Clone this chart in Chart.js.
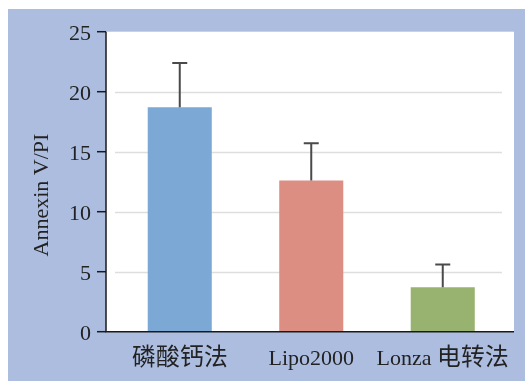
<!DOCTYPE html>
<html>
<head>
<meta charset="utf-8">
<script src="https://cdn.jsdelivr.net/npm/chart.js@4.4.1/dist/chart.umd.min.js"></script>
<style>
  /* slightly larger CJK glyphs next to the serif Latin text */
  @font-face {
    font-family: "CJKLabel";
    src: local("Noto Sans CJK SC"), local("NotoSansCJKsc-Regular"), local("Noto Sans CJK SC Regular");
    size-adjust: 108%;
    unicode-range: U+3000-9FFF, U+FF00-FFEF;
  }
  html, body { margin: 0; padding: 0; background: #ffffff; }
  #wrap { width: 525px; height: 381px; position: relative; }
</style>
</head>
<body>
<div id="wrap"><canvas id="chart"></canvas></div>
<script>
// Transfection methods and their Annexin V/PI readings
const categories = ['磷酸钙法', 'Lipo2000', 'Lonza 电转法'];
const means = [18.7, 12.6, 3.7];
const errorTops = [22.4, 15.7, 5.6];
const barColors = ['#7ba8d5', '#dc8e83', '#97b36f'];
const yTicks = [0, 5, 10, 15, 20, 25];
const yTitle = 'Annexin V/PI';

const FONT = '"Liberation Serif", "CJKLabel", "Noto Sans CJK SC", serif';
const PANEL_BLUE = '#adbde0';

// Frame, plot panel, grid, axes, error bars and the y title
const framePlugin = {
  id: 'frame',
  beforeDraw(chart) {
    const { ctx, chartArea: a, scales: { y } } = chart;
    ctx.save();
    ctx.fillStyle = '#ffffff';
    ctx.fillRect(0, 0, chart.width, chart.height);
    ctx.fillStyle = PANEL_BLUE;
    ctx.fillRect(8, 9, chart.width - 8, chart.height - 9);
    ctx.fillStyle = '#ffffff';
    ctx.fillRect(a.left - 8, a.top, a.right - a.left + 13.5, a.bottom - a.top);
    ctx.strokeStyle = '#dedede';
    ctx.lineWidth = 1.5;
    yTicks.forEach(v => {
      if (v === 0 || v === 25) return;
      const py = Math.round(y.getPixelForValue(v)) + 0.5;
      ctx.beginPath();
      ctx.moveTo(a.left + 1, py);
      ctx.lineTo(a.right - 6.5, py);
      ctx.stroke();
    });
    ctx.restore();
  },
  afterDatasetsDraw(chart) {
    const { ctx, chartArea: a, scales: { x, y } } = chart;
    ctx.save();
    // error bars
    ctx.strokeStyle = '#4a4a4a';
    ctx.lineWidth = 2;
    categories.forEach((c, i) => {
      const px = x.getPixelForValue(i);
      const top = y.getPixelForValue(errorTops[i]);
      const base = y.getPixelForValue(means[i]);
      ctx.beginPath();
      ctx.moveTo(px, base);
      ctx.lineTo(px, top);
      ctx.moveTo(px - 7.5, top);
      ctx.lineTo(px + 7.5, top);
      ctx.stroke();
    });
    // axes
    ctx.strokeStyle = '#1a1a1a';
    ctx.lineWidth = 1.5;
    const ax = a.left - 8;
    ctx.beginPath();
    ctx.moveTo(ax, a.top);
    ctx.lineTo(ax, a.bottom);
    ctx.lineTo(a.right + 5.5, a.bottom);
    ctx.stroke();
    yTicks.forEach(v => {
      const py = y.getPixelForValue(v);
      ctx.beginPath();
      ctx.moveTo(ax - 9, py);
      ctx.lineTo(ax, py);
      ctx.stroke();
    });
    // rotated y title
    ctx.translate(42, 195);
    ctx.rotate(-Math.PI / 2);
    ctx.fillStyle = '#222';
    ctx.font = '22px ' + FONT;
    ctx.textAlign = 'center';
    ctx.textBaseline = 'middle';
    ctx.fillText(yTitle, 0, 0);
    ctx.restore();
  }
};

function build() {
  new Chart(document.getElementById('chart'), {
    type: 'bar',
    data: {
      labels: categories,
      datasets: [{
        data: means,
        backgroundColor: barColors,
        borderWidth: 0,
        barPercentage: 0.487,
        categoryPercentage: 1
      }]
    },
    options: {
      responsive: true,
      maintainAspectRatio: false,
      animation: false,
      layout: { padding: { top: 31.7, right: 16.5, bottom: 0, left: 0 } },
      plugins: { legend: { display: false }, tooltip: { enabled: false } },
      scales: {
        x: {
          grid: { display: false },
          border: { display: false },
          ticks: { color: '#222', font: { family: FONT, size: 22 }, padding: 6, maxRotation: 0, autoSkip: false },
          afterFit(s) { s.height = 49.3; }
        },
        y: {
          min: 0,
          max: 25,
          grid: { display: false },
          border: { display: false },
          ticks: {
            color: '#222',
            font: { family: FONT, size: 22 },
            padding: 15,
            labelOffset: 2.5,
            stepSize: 5,
            callback: (v) => yTicks.includes(v) ? String(v) : null
          },
          afterFit(s) { s.width = 114; }
        }
      }
    },
    plugins: [framePlugin]
  });
}

if (document.fonts && document.fonts.load) {
  document.fonts.load('22px "CJKLabel"', '磷酸钙法电转').then(build, build);
} else {
  build();
}
</script>
</body>
</html>
